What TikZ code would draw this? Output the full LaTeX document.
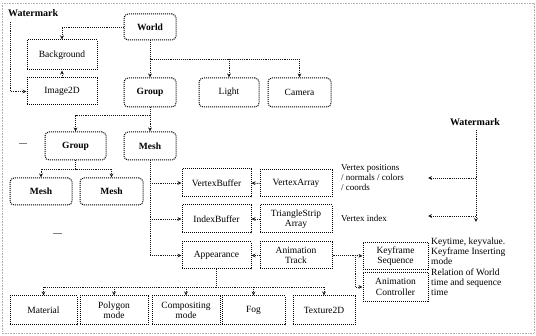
\documentclass[tikz,border=0pt]{standalone}
\usepackage{fontspec}
\setmainfont{Liberation Serif}
\usetikzlibrary{arrows.meta}
\begin{document}
\begin{tikzpicture}[x=1pt,y=-1pt,
  box/.style={draw=black, densely dotted, line width=1pt, inner sep=1pt,
    align=center, text=black, font=\fontsize{9.5}{10.5}\selectfont},
  rbox/.style={box, rounded corners=4pt},
  wire/.style={draw=black!90, densely dotted, line width=0.9pt},
  arr/.style={wire, -{Stealth[length=4pt,width=3.8pt]}},
  note/.style={align=left, inner sep=0pt, text=black, font=\fontsize{9}{10}\selectfont},
  wmark/.style={font=\bfseries\fontsize{10}{11}\selectfont, inner sep=0pt}
]
\useasboundingbox (0,0) rectangle (536,336);
\draw[gray!60, densely dotted, line width=0.6pt] (2,3) rectangle (534,333);

% scene graph nodes
\node[rbox, minimum width=52, minimum height=26] (world) at (150,27) {\textbf{World}};
\node[box, minimum width=70, minimum height=30] (bg) at (62,55) {Background};
\node[box, minimum width=70, minimum height=27] (img) at (62,91.5) {Image2D};
\node[rbox, minimum width=52, minimum height=29] (group) at (150,92.5) {\textbf{Group}};
\node[rbox, minimum width=60, minimum height=29] (light) at (229,92.5) {Light};
\node[rbox, minimum width=63, minimum height=29] (camera) at (299.5,92.5) {Camera};
\node[rbox, minimum width=61, minimum height=28] (group2) at (75.5,146) {\textbf{Group}};
\node[rbox, minimum width=52, minimum height=28] (mesh) at (150,146) {\textbf{Mesh}};
\node[rbox, minimum width=62, minimum height=27] (meshl) at (41,191.5) {\textbf{Mesh}};
\node[rbox, minimum width=63, minimum height=27] (meshr) at (111.5,191.5) {\textbf{Mesh}};

\node[box, minimum width=69, minimum height=28] (vb) at (216.5,183) {VertexBuffer};
\node[box, minimum width=72, minimum height=27] (va) at (296,183.5) {VertexArray};
\node[box, minimum width=69, minimum height=28] (ib) at (216.5,219) {IndexBuffer};
\node[box, minimum width=72, minimum height=28] (tsa) at (296,219) {TriangleStrip\\Array};
\node[box, minimum width=69, minimum height=27] (app) at (216.5,255.5) {Appearance};
\node[box, minimum width=72, minimum height=27] (at) at (296,255.5) {Animation\\Track};
\node[box, minimum width=65, minimum height=27] (ks) at (395.5,256) {Keyframe\\Sequence};
\node[box, minimum width=65, minimum height=29] (ac) at (395.5,287) {Animation\\Controller};

\node[box, minimum width=67, minimum height=29] (mat) at (43.5,310.5) {Material};
\node[box, minimum width=68, minimum height=29] (poly) at (114,310.5) {Polygon\\mode};
\node[box, minimum width=68, minimum height=29] (comp) at (186,310.5) {Compositing\\mode};
\node[box, minimum width=63, minimum height=29] (fog) at (253.5,310.5) {Fog};
\node[box, minimum width=62, minimum height=29] (tex) at (324,310.5) {Texture2D};

% watermark labels and notes
\node[wmark, anchor=west] (wml) at (8,13) {Watermark};
\node[wmark] (wmr) at (475,122) {Watermark};
\node[note, anchor=north west] (n1) at (341,164) {Vertex positions\\/ normals / colors\\/ coords};
\node[note, anchor=west] (n2) at (341,218) {Vertex index};
\node[note, anchor=north west, font=\fontsize{9.5}{10}\selectfont] (n3) at (431,237.5) {Keytime, keyvalue.\\Keyframe Inserting\\mode};
\node[note, anchor=north west, font=\fontsize{9.5}{10}\selectfont] (n4) at (431,268.5) {Relation of World\\time and sequence\\time};

% small ellipsis marks
\draw[black!50, line width=0.8pt] (19,143) -- (27,143);
\draw[black!50, line width=0.8pt] (53,233) -- (62,233);

% World and its children
\coordinate (wj) at (150,59);
\draw[wire] (world.south) -- (wj) -- (wj -| camera.north);
\draw[arr] (wj) -- (group.north);
\draw[arr] (wj -| light.north) -- (light.north);
\draw[arr] (wj -| camera.north) -- (camera.north);
\draw[arr] (world.west) -| (bg.north);
\draw[arr] (img.north) -- (bg.south);
\coordinate (wls) at (10,22);
\draw[arr] (wls) |- (img.west);

% Group branches
\coordinate (gj) at (150,115);
\draw[wire] (group.south) -- (gj);
\draw[arr] (gj) -| (group2.north);
\draw[arr] (gj) -- (mesh.north);
\coordinate (g2j) at (75.5,169);
\draw[wire] (group2.south) -- (g2j);
\draw[arr] (g2j) -| (meshl.north);
\draw[arr] (g2j) -| (meshr.north);

% Mesh components
\coordinate (mj) at (150,255.5);
\draw[wire] (mesh.south) -- (mj);
\draw[arr] (mesh.south |- vb.west) -- (vb.west);
\draw[arr] (mesh.south |- ib.west) -- (ib.west);
\draw[arr] (mj) -- (app.west);
\draw[arr] (va.west) -- (vb.east);
\draw[arr] (tsa.west) -- (ib.east);
\draw[arr] (at.west) -- (app.east);

% Animation track
\coordinate (aj) at (355,255.5);
\draw[wire] (at.east) -- (aj);
\draw[arr] (aj) -- (ks.west);
\draw[arr] (aj) |- (ac.west);

% Appearance attributes
\coordinate (pj) at (216.5,287);
\draw[wire] (app.south) -- (pj);
\draw[wire] (pj -| mat.north) -- (pj -| tex.north);
\draw[arr] (pj -| mat.north) -- (mat.north);
\draw[arr] (pj -| poly.north) -- (poly.north);
\draw[arr] (pj -| comp.north) -- (comp.north);
\draw[arr] (pj -| fog.north) -- (fog.north);
\draw[arr] (pj -| tex.north) -- (tex.north);

% right watermark
\coordinate (wr0) at (476,130);
\coordinate (wr1) at (476,222);
\coordinate (wra) at (428,178);
\coordinate (wrb) at (428,216);
\draw[arr] (wr0) -- (wr1);
\draw[arr] (wra -| wr0) -- (wra);
\draw[arr] (wrb -| wr0) -- (wrb);
\end{tikzpicture}
\end{document}
